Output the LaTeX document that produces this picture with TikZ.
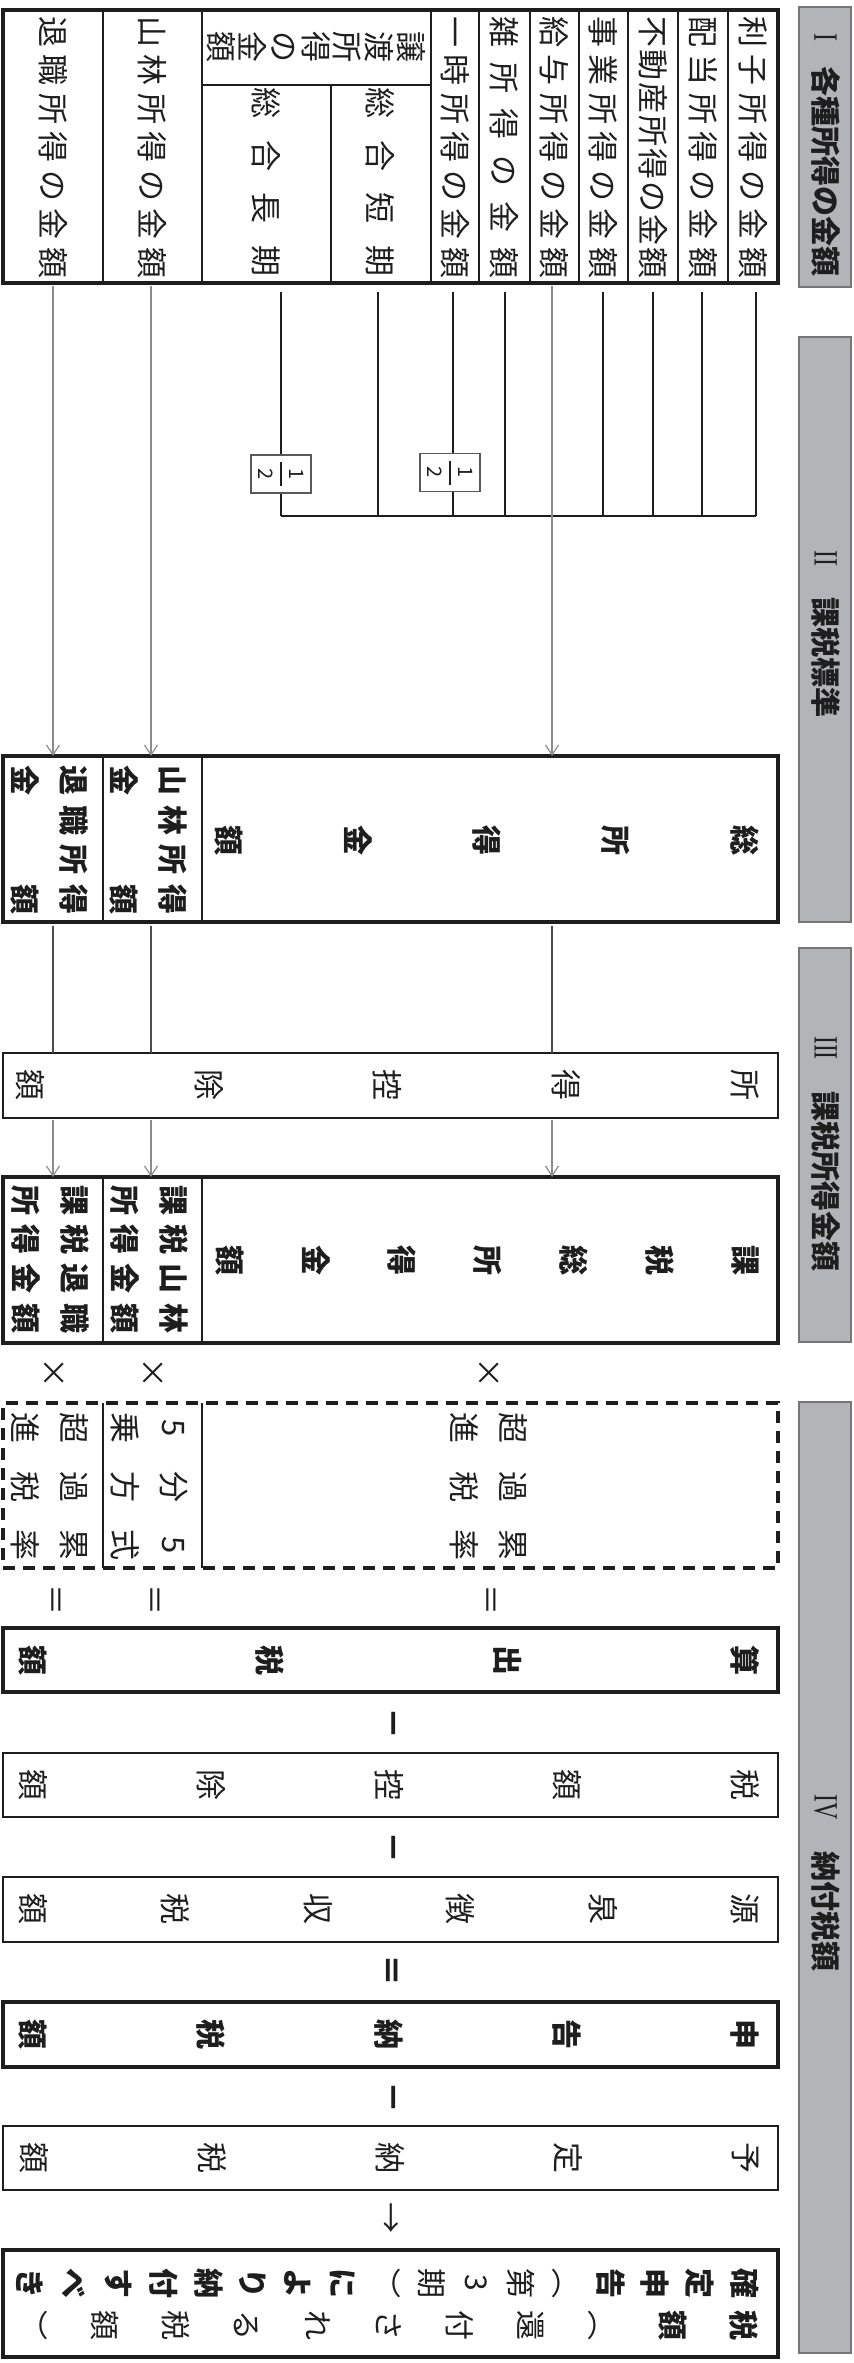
\documentclass[tikz,border=0pt]{standalone}
\usepackage{fontspec}
\usepackage{amsmath}
\usepackage{graphicx}
\setmainfont{Noto Sans CJK JP}
\newfontfamily\serifnum{Liberation Serif}
\usetikzlibrary{arrows.meta}
\definecolor{bargray}{RGB}{179,180,184}
\definecolor{barline}{RGB}{118,118,120}
\definecolor{ink}{RGB}{30,30,30}
\makeatletter
\newcommand\spc[2]{\def\sp@w{#1}\sp@next#2\relax}
\def\sp@next#1{\ifx\relax#1\else\hbox to \sp@w{\hss#1\hss}\expandafter\sp@next\fi}
\makeatother
\newcommand\zsp{\hbox to 1em{}}
\newcommand\fsz[2]{\fontsize{#1}{#2}\selectfont}
\newcommand\romnum[1]{{\serifnum\mdseries\fsz{17}{18}\scalebox{0.7}[1]{#1}}}
\newcommand\rectnode[6]{\node[#1,anchor=north west,minimum width={(#5-#3)*0.5pt},minimum height={(#6-#4)*0.5pt},inner sep=0pt,outer sep=0pt] (#2) at (#3,#4) {};}
\begin{document}
\begin{tikzpicture}[x=0.5pt,y=-0.5pt,
  thickbox/.style={draw=ink,line width=2pt},
  thinbox/.style={draw=ink,line width=0.8pt},
  dashbox/.style={draw=ink,line width=1.8pt,dash pattern=on 6pt off 4pt},
  bar/.style={draw=barline,fill=bargray,line width=0.8pt},
  cell/.style={draw=ink,line width=0.6pt},
  R/.style={rotate=-90,inner sep=0pt,text=ink},
  tx/.style={R,font=\fsz{15.5}{18}},
  bx/.style={R,font=\bfseries\fsz{15}{18}},
  dk/.style={draw=ink,line width=0.6pt},
  md/.style={draw=black!70,line width=0.6pt},
  gy/.style={draw=black!45,line width=0.6pt},
  arr/.style={-{Straight Barb[length=5pt,width=6.5pt]}},
  fracbox/.style={R,draw=black!65,fill=white,line width=0.6pt,minimum width=19pt,minimum height=30pt,font=\fsz{10}{12}}
]
\useasboundingbox (0,0) rectangle (854,2363);

% ---------- header bars ----------
\rectnode{bar}{barI}{799}{7}{851}{287}
\rectnode{bar}{barII}{799}{337}{851}{922}
\rectnode{bar}{barIII}{799}{948}{851}{1342}
\rectnode{bar}{barIV}{799}{1402}{851}{2353}
\node[bx] (hI) at (826,155) {\romnum{I}\hspace{13pt}各種所得の金額};
\node[bx] (hII) at (826,634) {\romnum{II}\hspace{16pt}課税標準};
\node[bx] (hIII) at (826,1154) {\romnum{III}\hspace{16pt}課税所得金額};
\node[bx] (hIV) at (826,1883) {\romnum{IV}\hspace{16pt}納付税額};

% ---------- connectors ----------
\foreach \n/\x in {choki/281,tanki/378,ichiji/453,zatsu/505,jigyo/603,fudosan/653,haito/702,rishi/756}
  \coordinate (c-\n) at (\x,292);
\coordinate (join-l) at (281,516);
\coordinate (join-r) at (756,516);
\foreach \n in {choki,tanki,ichiji,zatsu,jigyo,fudosan,haito,rishi}
  \draw[dk] (c-\n) -- (c-\n |- join-l);
\draw[dk] (join-l) -- (join-r);
\coordinate (c-kyuyo) at (552,286);
\coordinate (c-sanrin) at (151,286);
\coordinate (c-taishoku) at (53,286);

% ---------- boxes ----------
\rectnode{thickbox}{kaku}{3}{10}{778}{283}
\rectnode{thickbox}{sou}{3}{756}{778}{922}
\rectnode{thinbox}{koujo}{3}{1053}{778}{1118}
\rectnode{thickbox}{kazei}{3}{1177}{778}{1343}
\rectnode{dashbox}{ritsu}{3}{1403}{778}{1568}
\rectnode{thickbox}{sanshutsu}{3}{1628}{778}{1692}
\rectnode{thinbox}{zkoujo}{3}{1753}{778}{1817}
\rectnode{thinbox}{gensen}{3}{1877}{778}{1942}
\rectnode{thickbox}{shinkoku}{3}{2002}{778}{2067}
\rectnode{thinbox}{yotei}{3}{2126}{778}{2190}
\rectnode{thickbox}{kakutei}{3}{2250}{778}{2357}

\foreach \n in {kyuyo,sanrin,taishoku}{
  \draw[gy,arr] (c-\n) -- (c-\n |- sou.north);
  \draw[md] ([yshift=-2pt]c-\n |- sou.south) -- (c-\n |- koujo.north);
  \draw[gy,arr] ([yshift=-1pt]c-\n |- koujo.south) -- (c-\n |- kazei.north);
}

% table cells
\foreach \x in {103,202,431,479,530,579,628,678,728}
  \draw[cell] (\x,10) -- (\x,283);
\draw[cell] (331,85) -- (331,283);
\draw[cell] (202,85) -- (431,85);
\foreach \ya/\yb in {756/922,1177/1343,1403/1568}
  \foreach \x in {103,202}
    \draw[cell] (\x,\ya) -- (\x,\yb);

% fraction boxes
\node[fracbox] (half1) at (281,474) {$\genfrac{}{}{1.1pt}{0}{\hbox to 12pt{\hss 1\hss}}{\hbox to 12pt{\hss 2\hss}}$};
\node[fracbox] (half2) at (450,472.5) {$\genfrac{}{}{1.1pt}{0}{\hbox to 12pt{\hss 1\hss}}{\hbox to 12pt{\hss 2\hss}}$};

% ---------- I texts ----------
\node[tx] (r1) at (753,147.5) {\spc{19.25pt}{利子所得の金額}};
\node[tx] (r2) at (703,147.5) {\spc{19.25pt}{配当所得の金額}};
\node[tx] (r3) at (653,147.5) {\spc{16.5pt}{不動産所得の金額}};
\node[tx] (r4) at (603.5,147.5) {\spc{19.25pt}{事業所得の金額}};
\node[tx] (r5) at (554.5,147.5) {\spc{19.25pt}{給与所得の金額}};
\node[tx] (r6) at (504.5,147.5) {\spc{23.1pt}{雑所得の金額}};
\node[tx] (r7) at (455,147.5) {\spc{19.25pt}{一時所得の金額}};
\node[tx,align=center,font=\fsz{15.5}{15.85}] (r8) at (316,47) {譲\\渡\\所\\得\\の\\金\\額};
\node[tx] (r9) at (380,182) {\spc{26.33pt}{総合短期}};
\node[tx] (r10) at (266,182) {\spc{26.33pt}{総合長期}};
\node[tx] (r11) at (152.5,147.5) {\spc{19.25pt}{山林所得の金額}};
\node[tx] (r12) at (53,147.5) {\spc{19.25pt}{退職所得の金額}};

% ---------- II texts ----------
\node[bx,align=center,font=\bfseries\fsz{15}{64.5}] (s1) at (487,840) {総\\所\\得\\金\\額};
\node[bx,align=center,font=\bfseries\fsz{15}{24.5}] (s2) at (148,840) {\spc{20pt}{山林所得}\\\spc{20pt}{金\zsp\zsp 額}};
\node[bx,align=center,font=\bfseries\fsz{15}{24.5}] (s3) at (49,840) {\spc{20pt}{退職所得}\\\spc{20pt}{金\zsp\zsp 額}};

% ---------- III texts ----------
\node[tx,align=center,font=\fsz{15.5}{89.4}] (k1) at (387.5,1085) {所\\得\\控\\除\\額};
\node[bx,align=center,font=\bfseries\fsz{15}{43}] (t1) at (487,1260) {課\\税\\総\\所\\得\\金\\額};
\node[bx,align=center,font=\bfseries\fsz{15}{24.5}] (t2) at (149,1259) {\spc{19.67pt}{課税山林}\\\spc{19.67pt}{所得金額}};
\node[bx,align=center,font=\bfseries\fsz{15}{24.5}] (t3) at (50,1259) {\spc{19.67pt}{課税退職}\\\spc{19.67pt}{所得金額}};

% ---------- IV ----------
\node[tx] (m1) at (53,1373) {×};
\node[tx] (m2) at (152,1373) {×};
\node[tx] (m3) at (488,1373) {×};
\node[tx,align=center,font=\fsz{15.5}{24.5}] (d1) at (488.5,1486.5) {\spc{29.25pt}{超過累}\\\spc{29.25pt}{進税率}};
\node[tx,align=center,font=\fsz{15.5}{24.5}] (d2) at (149,1486.5) {\spc{29.25pt}{5分5}\\\spc{29.25pt}{乗方式}};
\node[tx,align=center,font=\fsz{15.5}{24.5}] (d3) at (50,1486.5) {\spc{29.25pt}{超過累}\\\spc{29.25pt}{進税率}};
\node[tx] (e1) at (53,1600) {＝};
\node[tx] (e2) at (152,1600) {＝};
\node[tx] (e3) at (488,1600) {＝};

\node[bx,align=center,font=\bfseries\fsz{15}{118.7}] (a1) at (389,1660) {算\\出\\税\\額};
\node[bx,font=\bfseries\fsz{16}{18}] (o1) at (389,1723) {－};
\node[tx,align=center,font=\fsz{15.5}{89}] (a2) at (389,1785) {税\\額\\控\\除\\額};
\node[bx,font=\bfseries\fsz{16}{18}] (o2) at (389,1847) {－};
\node[tx,align=center,font=\fsz{15.5}{71.2}] (a3) at (389,1909) {源\\泉\\徴\\収\\税\\額};
\node[bx,font=\bfseries\fsz{16}{18}] (o3) at (389,1970) {＝};
\node[bx,align=center,font=\bfseries\fsz{15}{89}] (a4) at (389,2034) {申\\告\\納\\税\\額};
\node[bx,font=\bfseries\fsz{16}{18}] (o4) at (389,2097) {－};
\node[tx,align=center,font=\fsz{15.5}{89}] (a5) at (389,2158) {予\\定\\納\\税\\額};
\node[tx] (o5) at (389,2218) {→};
\node[bx,align=center,font=\bfseries\fsz{15}{22.34}] (a6) at (387.5,2283)
  {確\\定\\申\\告\\{\mdseries ︵}\\{\mdseries 第}\\{\mdseries 3}\\{\mdseries 期}\\{\mdseries ︶}\\に\\よ\\り\\納\\付\\す\\べ\\き};
\node[bx,align=center,font=\bfseries\fsz{15}{35.5}] (a7) at (390,2325)
  {税\\額\\{\mdseries ︵}\\{\mdseries 還}\\{\mdseries 付}\\{\mdseries さ}\\{\mdseries れ}\\{\mdseries る}\\{\mdseries 税}\\{\mdseries 額}\\{\mdseries ︶}};
\end{tikzpicture}
\end{document}
